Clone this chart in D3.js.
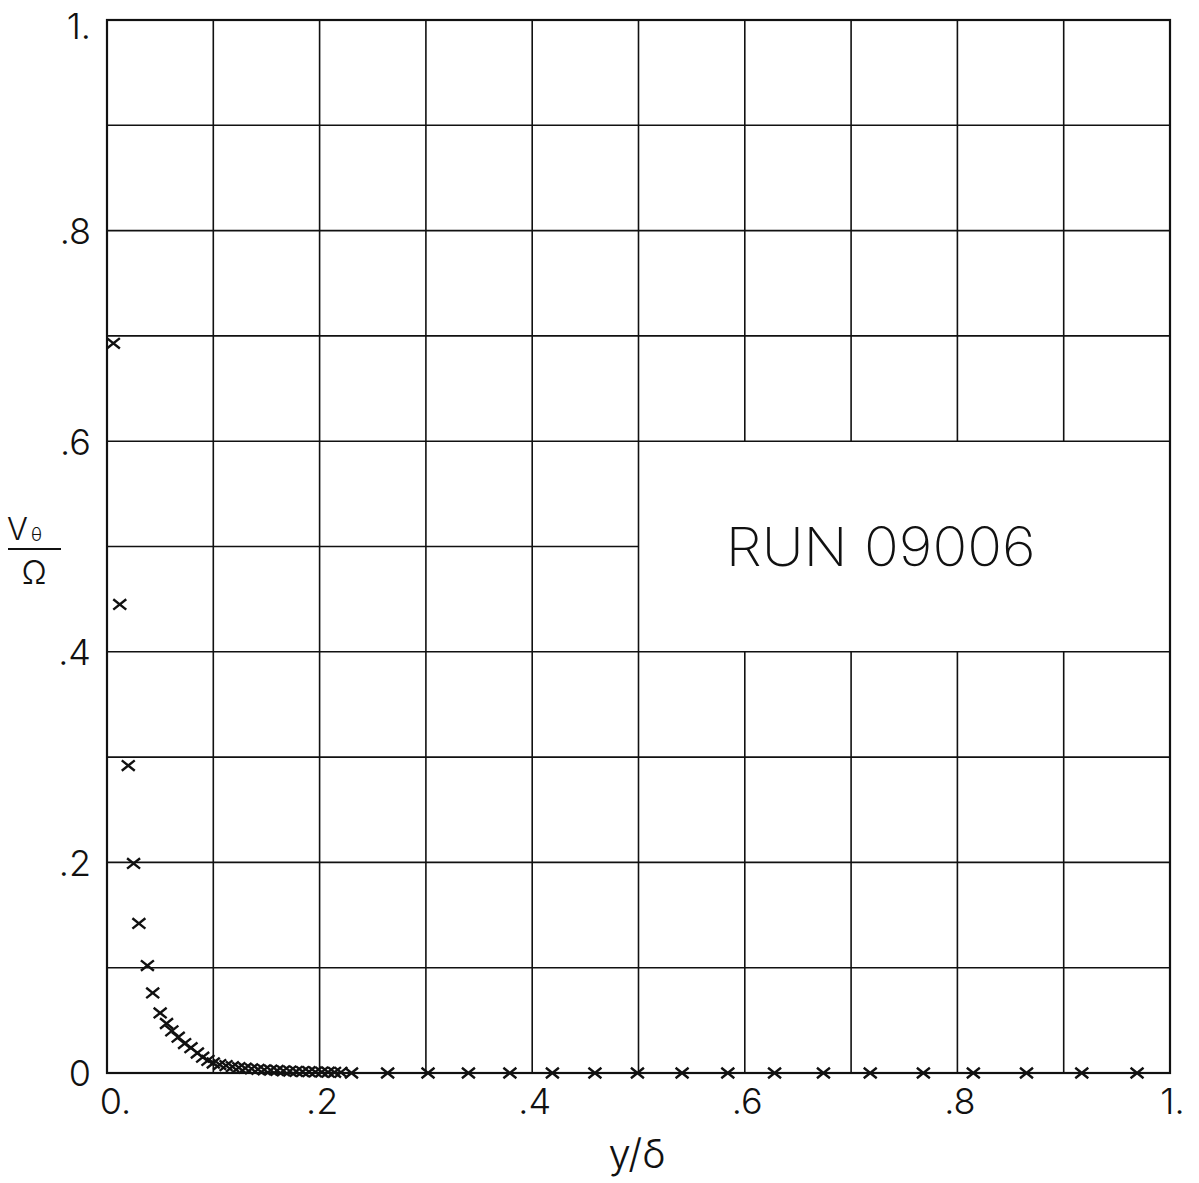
<!DOCTYPE html>
<html>
<head>
<meta charset="utf-8">
<script src="https://cdn.jsdelivr.net/npm/d3@7"></script>
<style>
  body { margin: 0; background: #fff; }
  text { font-family: Inter, Roboto, "DejaVu Sans", sans-serif; font-weight: 300; fill: #111; }
</style>
</head>
<body>
<div id="chart"></div>
<script>
// data
var yOverDelta = [0.006, 0.012, 0.020, 0.025, 0.030, 0.038, 0.043, 0.050, 0.056, 0.061,
    0.067, 0.073, 0.079, 0.085, 0.090, 0.095, 0.100, 0.106, 0.112, 0.118,
    0.124, 0.130, 0.136, 0.142, 0.148, 0.154, 0.160, 0.166, 0.172, 0.178,
    0.184, 0.190, 0.196, 0.202, 0.208, 0.214, 0.220, 0.230, 0.264, 0.302,
    0.340, 0.379, 0.419, 0.459, 0.499, 0.541, 0.584, 0.628, 0.674, 0.718,
    0.768, 0.815, 0.865, 0.917, 0.969];
var vOverOmega = [0.693, 0.445, 0.292, 0.199, 0.142, 0.102, 0.076, 0.057, 0.047, 0.040,
    0.034, 0.028, 0.024, 0.019, 0.015, 0.012, 0.0095, 0.008, 0.007, 0.006,
    0.0052, 0.0046, 0.004, 0.0035, 0.003, 0.0027, 0.0024, 0.0021, 0.0018, 0.0016,
    0.0014, 0.0012, 0.001, 0.0009, 0.0008, 0.0007, 0.0006, 0, 0, 0,
    0, 0, 0, 0, 0, 0, 0, 0, 0, 0,
    0, 0, 0, 0, 0];

var gridVals = [0, 0.1, 0.2, 0.3, 0.4, 0.5, 0.6, 0.7, 0.8, 0.9, 1];
var xLabelVals = [0, 0.2, 0.4, 0.6, 0.8, 1];
var xLabels = ["0.", ".2", ".4", ".6", ".8", "1."];
var yLabelVals = [0, 0.2, 0.4, 0.6, 0.8, 1];
var yLabels = ["0", ".2", ".4", ".6", ".8", "1."];
var runLabel = "RUN 09006";

var svgWidth = 1199;
var svgHeight = 1183;
var margin = { top: 20, right: 29, bottom: 110, left: 107 };
var width = svgWidth - margin.left - margin.right;
var height = svgHeight - margin.top - margin.bottom;

var svg = d3.select("#chart")
    .append("svg")
    .attr("width", svgWidth)
    .attr("height", svgHeight);

var chartGroup = svg.append("g")
    .attr("transform", `translate(${margin.left},${margin.top})`);

var x = d3.scaleLinear().domain([0, 1]).range([0, width]);
var y = d3.scaleLinear().domain([0, 1]).range([height, 0]);

// grid - the label box (x .5..1, y .4..6) has no inner lines
var grid = chartGroup.append("g")
    .attr("stroke", "#111")
    .attr("stroke-width", 1.6);

gridVals.forEach(function(v) {
    if (v > 0.5 && v < 1) {
        grid.append("line").attr("x1", x(v)).attr("x2", x(v)).attr("y1", y(0)).attr("y2", y(0.4));
        grid.append("line").attr("x1", x(v)).attr("x2", x(v)).attr("y1", y(0.6)).attr("y2", y(1));
    } else {
        grid.append("line").attr("x1", x(v)).attr("x2", x(v)).attr("y1", y(0)).attr("y2", y(1));
    }
    var xEnd = (v == 0.5) ? 0.5 : 1;
    grid.append("line").attr("x1", x(0)).attr("x2", x(xEnd)).attr("y1", y(v)).attr("y2", y(v));
});

chartGroup.append("rect")
    .attr("width", width)
    .attr("height", height)
    .attr("fill", "none")
    .attr("stroke", "#111")
    .attr("stroke-width", 2.2);

// axes (labels only)
var bottomAxis = d3.axisBottom(x)
    .tickValues(xLabelVals)
    .tickFormat((d, i) => xLabels[i])
    .tickSize(0)
    .tickPadding(14);

var leftAxis = d3.axisLeft(y)
    .tickValues(yLabelVals)
    .tickFormat((d, i) => yLabels[i])
    .tickSize(0)
    .tickPadding(16);

var xAxisG = chartGroup.append("g")
    .attr("transform", `translate(0, ${height})`)
    .call(bottomAxis);
xAxisG.select(".domain").remove();
xAxisG.selectAll("text")
    .attr("dy", "0.75em")
    .style("font-size", "36px")
    .style("font-family", "Inter, Roboto, 'DejaVu Sans', sans-serif")
    .attr("fill", "#111")
    .attr("dx", (d, i) => i == 0 ? 8 : 2);

var yAxisG = chartGroup.append("g").call(leftAxis);
yAxisG.select(".domain").remove();
yAxisG.selectAll("text")
    .style("font-size", "36px")
    .style("font-family", "Inter, Roboto, 'DejaVu Sans', sans-serif")
    .attr("fill", "#111")
    .attr("dy", (d, i) => i == yLabels.length - 1 ? "0.5em" : "0.36em");

// data marks: x crosses
var s = 6.5;
chartGroup.selectAll(".cross")
    .data(yOverDelta)
    .enter()
    .append("path")
    .attr("class", "cross")
    .attr("d", function(d, i) {
        var cx = x(d), cy = y(vOverOmega[i]);
        return `M${cx - s},${cy - s * 0.8}L${cx + s},${cy + s * 0.8}M${cx - s},${cy + s * 0.8}L${cx + s},${cy - s * 0.8}`;
    })
    .attr("stroke", "#111")
    .attr("stroke-width", 2.4)
    .attr("fill", "none");

// run label
chartGroup.append("text")
    .attr("x", x(0.582))
    .attr("y", y(0.5) + 19)
    .attr("textLength", 310)
    .attr("lengthAdjust", "spacingAndGlyphs")
    .style("font-size", "54px")
    .style("font-weight", 200)
    .text(runLabel);

// axis titles
svg.append("text")
    .attr("x", 637)
    .attr("y", 1168)
    .attr("text-anchor", "middle")
    .style("font-size", "40px")
    .text("y/δ");

svg.append("text")
    .attr("x", 7)
    .attr("y", 540)
    .style("font-size", "31px")
    .text("V");
svg.append("text")
    .attr("x", 31)
    .attr("y", 541)
    .style("font-size", "18px")
    .text("θ");
svg.append("line")
    .attr("x1", 8).attr("x2", 61)
    .attr("y1", 549).attr("y2", 549)
    .attr("stroke", "#111")
    .attr("stroke-width", 2);
svg.append("text")
    .attr("x", 34)
    .attr("y", 584)
    .attr("text-anchor", "middle")
    .style("font-size", "33px")
    .text("Ω");
</script>
</body>
</html>
